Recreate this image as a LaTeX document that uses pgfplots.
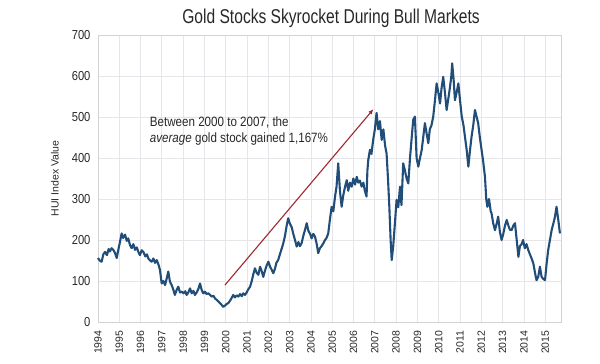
\documentclass[border=0pt]{standalone}
\usepackage{fontspec}
\setmainfont{Liberation Sans}[FakeStretch=0.86]
\newfontfamily\plainfont{Liberation Sans}
\newfontfamily\titlefont{Liberation Sans}[FakeStretch=0.78]
\usepackage{pgfplots}
\pgfplotsset{compat=1.18}
\usetikzlibrary{arrows.meta}
\definecolor{huiblue}{RGB}{33,78,121}
\definecolor{arrowred}{RGB}{158,40,46}
\definecolor{gridgray}{RGB}{230,230,234}
\definecolor{txt}{RGB}{40,40,40}
\begin{document}
\begin{tikzpicture}
\useasboundingbox (0,0) rectangle (600pt,364pt);
\node[font=\titlefont\fontsize{20}{20}\selectfont, text=txt, anchor=base] at (331pt,340pt) {Gold Stocks Skyrocket During Bull Markets};
\begin{axis}[
  at={(98pt,42pt)}, anchor=south west,
  scale only axis, width=463pt, height=287pt,
  xmin=1994, xmax=2015.74, ymin=0, ymax=700,
  xtick={1994,...,2015}, ytick={0,100,...,700},
  major tick length=0pt,
  grid=major, major grid style={gridgray, line width=0.8pt},
  axis line style={gridgray!80!gray},
  /pgf/number format/assume math mode=true,
  /pgf/number format/1000 sep={},
  x tick label style={font=\plainfont\fontsize{10.5}{10.5}\selectfont, text=txt, rotate=90, anchor=east, xshift=-5pt},
  y tick label style={font=\fontsize{13}{13}\selectfont, text=txt, xshift=-4pt},
  ylabel={HUI Index Value},
  ylabel style={font=\plainfont\fontsize{10.5}{10.5}\selectfont, text=txt, at={(axis description cs:-0.093,0.5)}, anchor=center},
  clip=false,
]
\addplot[huiblue, line width=2.1pt, line join=round] coordinates {
(1994.00,156) (1994.08,150) (1994.17,147) (1994.25,165) (1994.33,171) (1994.42,163) (1994.50,178) (1994.56,172)
(1994.64,180) (1994.72,176) (1994.80,168) (1994.88,156) (1994.95,175) (1995.03,195) (1995.11,216) (1995.18,205)
(1995.27,213) (1995.35,198) (1995.42,204) (1995.50,188) (1995.58,180) (1995.66,190) (1995.74,176) (1995.82,182)
(1995.90,170) (1995.97,163) (1996.05,175) (1996.13,171) (1996.22,160) (1996.30,165) (1996.36,155) (1996.45,150)
(1996.52,147) (1996.60,155) (1996.68,144) (1996.76,151) (1996.84,140) (1996.91,127) (1996.99,94) (1997.07,100)
(1997.15,90) (1997.22,105) (1997.30,123) (1997.38,98) (1997.46,90) (1997.53,80) (1997.61,66) (1997.69,78)
(1997.77,86) (1997.85,72) (1997.93,74) (1998.02,70) (1998.10,75) (1998.16,66) (1998.24,72) (1998.32,82)
(1998.40,70) (1998.48,76) (1998.55,66) (1998.63,72) (1998.71,80) (1998.79,94) (1998.87,78) (1998.94,70)
(1999.02,74) (1999.10,68) (1999.18,70) (1999.26,66) (1999.34,62) (1999.42,64) (1999.49,58) (1999.57,54)
(1999.65,50) (1999.73,46) (1999.80,42) (1999.88,37) (1999.96,40) (2000.04,44) (2000.12,46) (2000.20,52)
(2000.27,58) (2000.35,66) (2000.43,60) (2000.51,65) (2000.59,62) (2000.67,68) (2000.75,63) (2000.82,70)
(2000.90,66) (2000.98,72) (2001.06,80) (2001.14,86) (2001.22,100) (2001.30,118) (2001.37,131) (2001.45,120)
(2001.53,115) (2001.61,135) (2001.68,125) (2001.76,110) (2001.84,125) (2001.92,138) (2002.00,147) (2002.08,135)
(2002.15,128) (2002.23,119) (2002.31,130) (2002.38,145) (2002.46,151) (2002.54,165) (2002.62,178) (2002.70,192)
(2002.78,210) (2002.86,235) (2002.93,253) (2003.01,240) (2003.09,232) (2003.17,215) (2003.25,200) (2003.33,184)
(2003.41,195) (2003.48,185) (2003.56,192) (2003.64,210) (2003.72,225) (2003.80,241) (2003.88,222) (2003.96,215)
(2004.03,204) (2004.11,215) (2004.19,208) (2004.27,190) (2004.34,168) (2004.42,180) (2004.50,185) (2004.58,192)
(2004.66,200) (2004.73,205) (2004.81,216) (2004.89,250) (2004.97,281) (2005.05,270) (2005.13,306) (2005.20,330)
(2005.28,387) (2005.36,320) (2005.44,281) (2005.52,310) (2005.60,330) (2005.68,346) (2005.75,320) (2005.83,340)
(2005.91,330) (2005.99,350) (2006.07,335) (2006.15,354) (2006.22,340) (2006.30,345) (2006.38,330) (2006.46,340)
(2006.53,320) (2006.61,306) (2006.65,370) (2006.69,395) (2006.77,420) (2006.84,410) (2006.92,444) (2007.00,470)
(2007.08,510) (2007.16,470) (2007.24,490) (2007.32,444) (2007.40,470) (2007.48,430) (2007.55,411) (2007.62,346)
(2007.68,280) (2007.74,200) (2007.79,151) (2007.86,184) (2007.94,240) (2008.02,298) (2008.10,280) (2008.18,330)
(2008.25,285) (2008.33,387) (2008.41,370) (2008.49,350) (2008.57,338) (2008.65,400) (2008.72,444) (2008.80,493)
(2008.88,501) (2008.96,400) (2009.04,379) (2009.12,400) (2009.20,420) (2009.27,450) (2009.35,485) (2009.43,460)
(2009.51,436) (2009.58,470) (2009.66,480) (2009.74,501) (2009.82,540) (2009.90,582) (2009.98,560) (2010.06,533)
(2010.13,570) (2010.21,598) (2010.29,560) (2010.37,517) (2010.45,545) (2010.53,574) (2010.59,600) (2010.63,631)
(2010.70,590) (2010.76,541) (2010.84,560) (2010.92,582) (2011.00,540) (2011.08,501) (2011.16,480) (2011.23,452)
(2011.31,420) (2011.39,379) (2011.47,420) (2011.54,452) (2011.62,480) (2011.70,517) (2011.78,500) (2011.85,485)
(2011.93,450) (2012.01,420) (2012.09,390) (2012.17,354) (2012.23,300) (2012.28,281) (2012.36,300) (2012.44,270)
(2012.48,265) (2012.56,240) (2012.64,224) (2012.72,240) (2012.79,257) (2012.87,220) (2012.95,200) (2013.03,215)
(2013.11,235) (2013.19,249) (2013.27,235) (2013.34,225) (2013.42,224) (2013.50,235) (2013.58,241) (2013.66,200)
(2013.74,159) (2013.81,185) (2013.89,190) (2013.96,200) (2014.04,180) (2014.12,190) (2014.20,176) (2014.28,165)
(2014.36,155) (2014.44,143) (2014.52,120) (2014.59,102) (2014.67,110) (2014.75,135) (2014.83,110) (2014.91,105)
(2014.99,102) (2015.06,140) (2015.14,176) (2015.22,200) (2015.30,224) (2015.38,240) (2015.45,255) (2015.53,281)
(2015.61,250) (2015.69,216)
};
\addplot[arrowred, line width=1.1pt, -{Latex[length=5pt,width=4.5pt]}] coordinates {(1999.96,90) (2006.93,519)};
\node[anchor=base west, font=\fontsize{13.5}{13.5}\selectfont, text=txt] at (axis cs:1996.27,476) {Between 2000 to 2007, the};
\node[anchor=base west, font=\fontsize{13.5}{13.5}\selectfont, text=txt] at (axis cs:1996.27,437) {\textit{average} gold stock gained 1,167\%};
\end{axis}
\end{tikzpicture}
\end{document}
